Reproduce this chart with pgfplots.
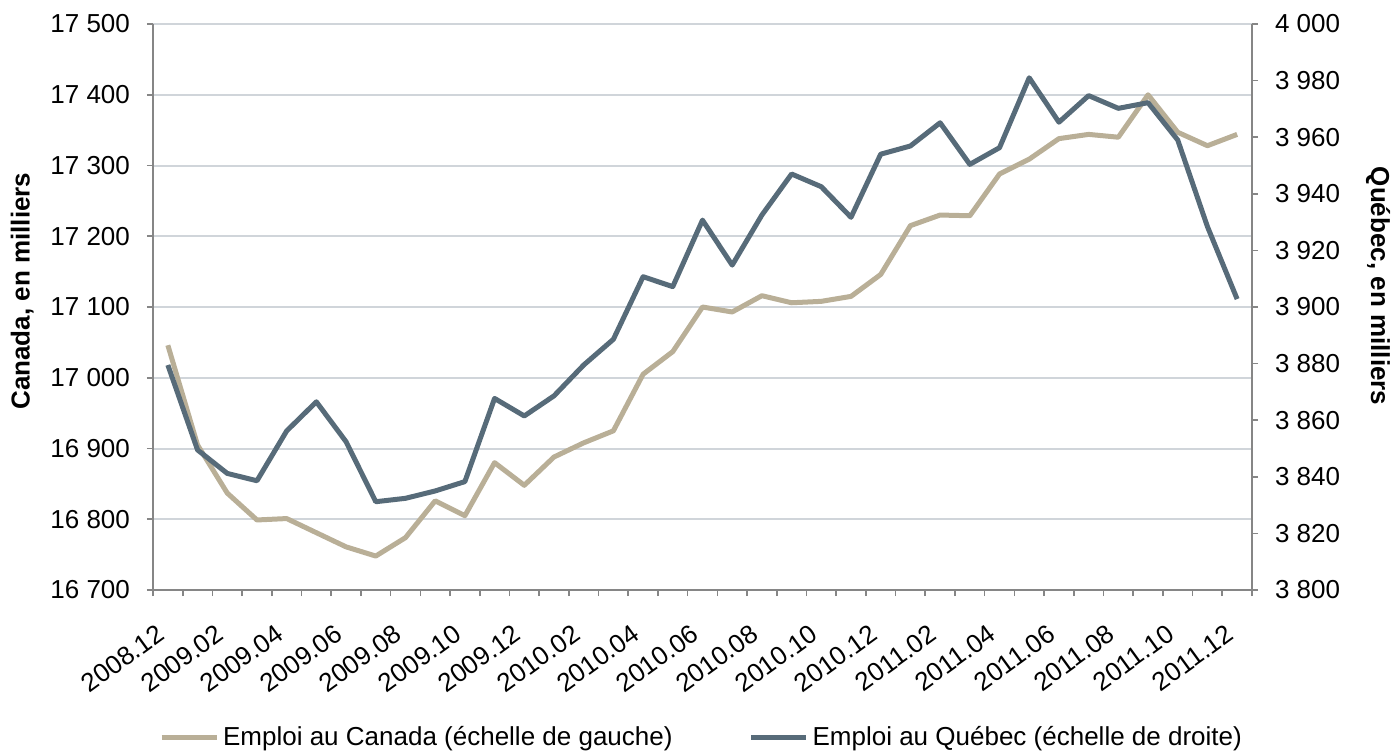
\documentclass[border=0pt]{standalone}
\usepackage{pgfplots}
\usepackage{pgfplotstable}
\pgfplotsset{compat=1.18}
\usepackage{fontspec}
\setmainfont{Liberation Sans}
\definecolor{canc}{RGB}{185,175,151}
\definecolor{quec}{RGB}{87,107,121}
\definecolor{gridc}{RGB}{208,213,218}
\definecolor{axc}{RGB}{134,134,134}

\pgfplotstableread{
k can que
0 17046 3879.5
1 16905 3849.5
2 16837 3841.2
3 16799 3838.6
4 16801 3856.2
5 16781 3866.5
6 16761 3852.4
7 16748 3831.2
8 16774 3832.4
9 16826 3835.0
10 16805 3838.3
11 16880 3867.7
12 16848 3861.5
13 16888 3868.6
14 16908 3879.5
15 16925 3888.6
16 17005 3910.7
17 17037 3907.2
18 17100 3930.7
19 17093 3914.8
20 17116 3932.5
21 17106 3947.0
22 17108 3942.5
23 17115 3931.7
24 17146 3954.0
25 17215 3956.9
26 17230 3965.1
27 17229 3950.4
28 17288 3956.3
29 17309 3981.0
30 17338 3965.3
31 17344 3974.7
32 17340 3970.2
33 17400 3972.2
34 17347 3959.0
35 17328 3928.4
36 17344 3902.8
}\datatable

\begin{document}
\begin{tikzpicture}
\useasboundingbox (-76.5pt,-81pt) rectangle (622.5pt,295pt);
\pgfplotsset{
  base/.style={
    at={(0,0)}, anchor=south west,
    scale only axis, width=549.5pt, height=283pt,
    xmin=-0.5, xmax=36.5,
    font=\fontsize{13}{15}\selectfont,
    tick align=outside,
    major tick length=3pt, minor tick length=3pt,
    every tick/.style={axc, line width=0.8pt},
    axis line style={axc, line width=1pt},
    /pgf/number format/assume math mode=true,
    /pgf/number format/1000 sep={\ },
    scaled y ticks=false,
  }
}
\begin{axis}[base,
  axis y line*=left, axis x line*=bottom,
  ymin=16700, ymax=17500, ytick={16700,16800,...,17500},
  ymajorgrids, grid style={gridc, line width=1pt},
  yticklabel style={xshift=-5pt},
  xtick={0,2,...,36},
  xticklabels={2008.12,2009.02,2009.04,2009.06,2009.08,2009.10,2009.12,2010.02,2010.04,2010.06,2010.08,2010.10,2010.12,2011.02,2011.04,2011.06,2011.08,2011.10,2011.12},
  major x tick style={draw=none},
  minor xtick={-0.5,0.5,...,36.5},
  xticklabel style={xshift=-6pt, yshift=-12pt, rotate=36, anchor=north east, inner sep=1pt},
  every axis y label/.style={at={(axis description cs:-0.119,0.528)}, anchor=center, rotate=90, font=\fontsize{13}{15}\selectfont\bfseries},
  ylabel={Canada, en milliers},
]
\addplot[canc, line width=2.5pt, line join=round] table[x=k, y=can] {\datatable};
\end{axis}
\begin{axis}[base,
  axis y line*=right, axis x line=none,
  ymin=3800, ymax=4000, ytick={3800,3820,...,4000},
  yticklabel style={xshift=5pt},
  every axis y label/.style={at={(axis description cs:1.1147,0.537)}, anchor=center, rotate=-90, font=\fontsize{13}{15}\selectfont\bfseries},
  ylabel={Québec, en milliers},
  legend style={at={(0.5,-0.26)}, anchor=center, draw=none, fill=none, legend columns=2,
    /tikz/every even column/.append style={column sep=36pt},
    font=\fontsize{13}{15}\selectfont},
  legend cell align=left,
  legend image code/.code={\draw[#1] (0pt,0pt) -- (27.5pt,0pt);},
]
\addlegendimage{canc, line width=2.5pt}
\addlegendentry{Emploi au Canada (échelle de gauche)}
\addplot[quec, line width=2.5pt, line join=round] table[x=k, y=que] {\datatable};
\addlegendentry{Emploi au Québec (échelle de droite)}
\end{axis}
\end{tikzpicture}
\end{document}
